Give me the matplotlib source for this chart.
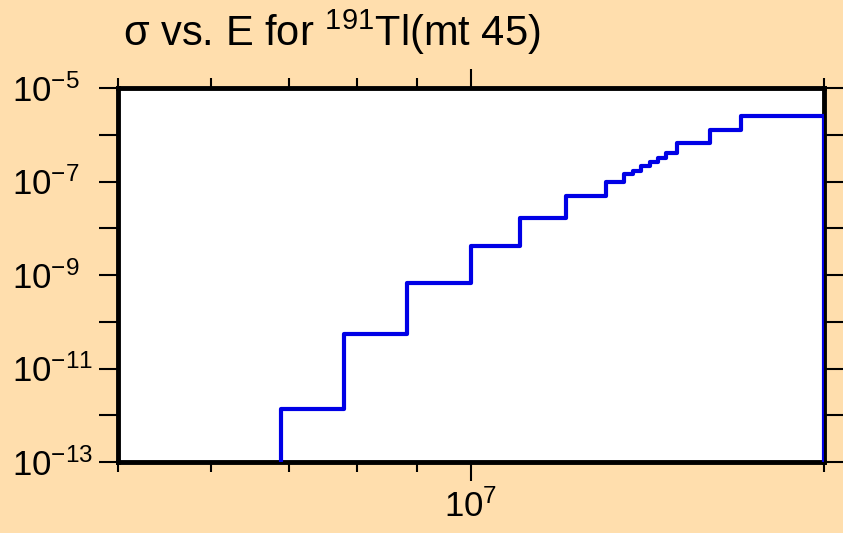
import numpy as np
import matplotlib
matplotlib.use("Agg")
import matplotlib.pyplot as plt
from matplotlib.ticker import FixedLocator, NullFormatter

# step data: left edge of each bin (eV) and cross section
energy = [6.88e6, 7.8e6, 8.82e6, 1.0e7, 1.1e7, 1.205e7, 1.303e7, 1.35e7, 1.374e7,
          1.395e7, 1.42e7, 1.443e7, 1.466e7, 1.50e7, 1.60e7, 1.70e7, 2.0e7]
sigma = [1.35e-12, 5.5e-11, 6.7e-10, 4.2e-9, 1.66e-8, 4.9e-8, 1.0e-7, 1.45e-7, 1.7e-7,
         2.15e-7, 2.65e-7, 3.23e-7, 4.0e-7, 6.76e-7, 1.26e-6, 2.52e-6, 2.52e-6]

x_major = [1e7]
x_minor = [5e6, 6e6, 7e6, 8e6, 9e6, 2e7]
y_ticks = [1e-5, 1e-6, 1e-7, 1e-8, 1e-9, 1e-10, 1e-11, 1e-12, 1e-13]
y_labeled = [-5, -7, -9, -11, -13]

plt.rcParams['font.family'] = ['Liberation Sans', 'DejaVu Sans']
plt.rcParams['mathtext.fontset'] = 'custom'
plt.rcParams['mathtext.rm'] = 'Liberation Sans'
plt.rcParams['mathtext.it'] = 'Liberation Sans'
plt.rcParams['axes.unicode_minus'] = False

bg = '#FFDEAD'
fig = plt.figure(figsize=(8.43, 5.33), dpi=100, facecolor=bg)
ax = fig.add_axes([118/843, 71/533, 706/843, 374/533])
ax.set_xscale('log')
ax.set_yscale('log')
ax.set_xlim(5e6, 2e7)
ax.set_ylim(1e-13, 1e-5)

# close the steps down to the bottom edge at both ends
xs = [energy[0]] + energy
ys = [1e-20] + sigma
xs.append(energy[-1])
ys.append(1e-20)
ax.plot(xs, ys, drawstyle='steps-post', color='#0000e6', lw=3, zorder=6)

for s in ax.spines.values():
    s.set_linewidth(3.5)
    s.set_zorder(5)

ax.xaxis.set_major_locator(FixedLocator(x_major))
ax.xaxis.set_minor_locator(FixedLocator(x_minor))
ax.xaxis.set_minor_formatter(NullFormatter())
ax.set_xticklabels([r'$\mathregular{10^{7}}$'])
ax.tick_params(axis='x', which='major', direction='out', length=14, width=1.5,
               top=True, labelsize=25, pad=6)
ax.tick_params(axis='x', which='minor', direction='out', length=7, width=1.5, top=True)

ax.yaxis.set_major_locator(FixedLocator(y_ticks))
ax.yaxis.set_minor_locator(FixedLocator([]))
labels = []
for t in y_ticks:
    e = int(round(np.log10(t)))
    labels.append(r'$\mathregular{10^{%d}}$' % e if e in y_labeled else '')
ax.set_yticklabels(labels)
ax.tick_params(axis='y', which='major', direction='out', length=14, width=1.5,
               right=True, labelsize=25, pad=62.5)
for lab in ax.get_yticklabels():
    lab.set_horizontalalignment('left')

fig.text(123/843, 1 - 46/533, r'σ vs. E for $\mathregular{^{191}}$Tl(mt 45)',
         fontsize=30, ha='left', va='baseline')

fig.savefig('out.png', dpi=100, facecolor=bg)
